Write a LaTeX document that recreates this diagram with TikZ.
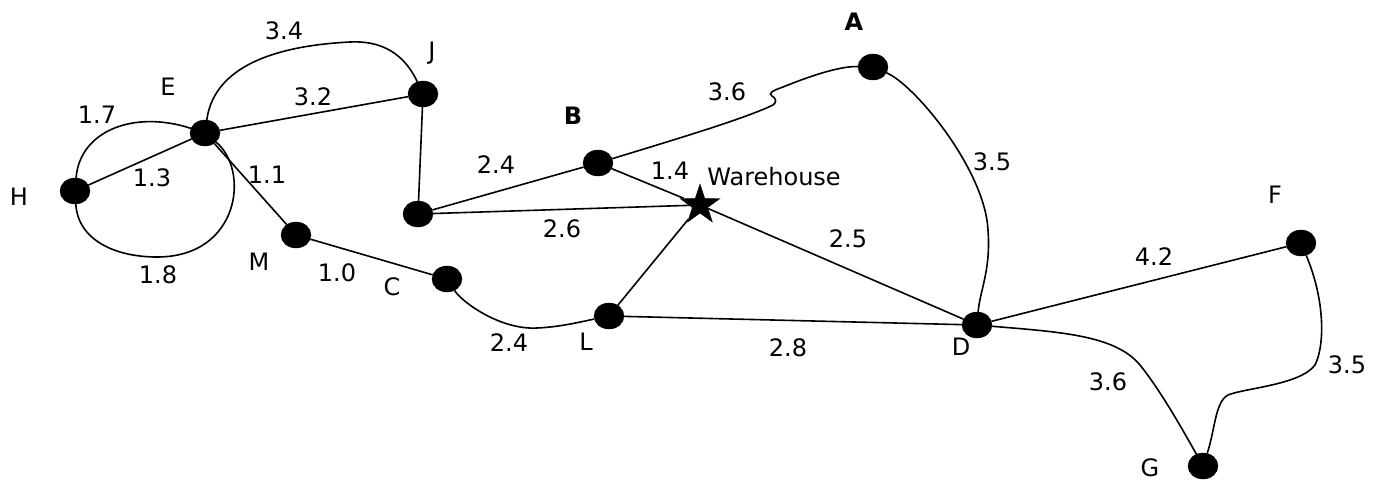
\documentclass[tikz,border=0pt]{standalone}
\usepackage{fontspec}
\setmainfont{DejaVu Sans}
\usetikzlibrary{shapes.geometric}
\begin{document}
\begin{tikzpicture}[x=1pt,y=-1pt,
  vertex/.style={ellipse,fill=black,draw=black,inner sep=0pt,minimum width=30pt,minimum height=26pt},
  depot/.style={star,star points=5,star point ratio=2.6,fill=black,draw=black,inner sep=0pt,minimum size=42pt},
  lbl/.style={inner sep=0pt,font=\fontsize{24}{28}\selectfont},
  bl/.style={lbl,font=\fontsize{24}{28}\selectfont\bfseries},
  edge/.style={line width=1.6pt}]
\useasboundingbox (0,0) rectangle (1377,483);

% vertices
\node[vertex] (H)  at (75,191) {};
\node[vertex] (E)  at (205,133) {};
\node[vertex] (J)  at (423,94) {};
\node[vertex] (Jb) at (418,214) {};
\node[vertex] (M)  at (296,235) {};
\node[vertex] (C)  at (447,279) {};
\node[vertex] (L)  at (609,316) {};
\node[vertex] (B)  at (598,163) {};
\node[depot]  (W)  at (700,205) {};
\node[vertex] (A)  at (873,67) {};
\node[vertex] (D)  at (977,325) {};
\node[vertex] (F)  at (1301,243) {};
\node[vertex] (G)  at (1203,466) {};

% straight roads
\draw[edge] (H) -- (E);
\draw[edge] (E) -- (J);
\draw[edge] (E) -- (M);
\draw[edge] (J) -- (Jb);
\draw[edge] (Jb) -- (B);
\draw[edge] (Jb) -- (W);
\draw[edge] (M) -- (C);
\draw[edge] (B) -- (W);
\draw[edge] (W) -- (D);
\draw[edge] (L) -- (W);
\draw[edge] (L) -- (D);
\draw[edge] (D) -- (F);

% curved roads
\draw[edge] (H) .. controls (80,130) and (135,110) .. (E);
\draw[edge] (E) .. controls (250,170) and (240,257) .. (157,257)
               .. controls (115,257) and (78,240) .. (H);
\draw[edge] (E) .. controls (215,60) and (290,45) .. (350,42)
               .. controls (390,40) and (408,62) .. (J);
\draw[edge] (B) .. controls (680,138) and (740,120) .. (771,106)
               .. controls (778,103) and (776,98) .. (772,96)
               .. controls (768,93) and (772,91) .. (783,87)
               .. controls (810,76) and (840,66) .. (A);
\draw[edge] (A) .. controls (915,85) and (985,170) .. (988,230)
               .. controls (991,270) and (980,290) .. (D);
\draw[edge] (C) .. controls (462,302) and (500,330) .. (537,328)
               .. controls (560,327) and (580,322) .. (L);
\draw[edge] (D) .. controls (1060,332) and (1115,335) .. (1140,365)
               .. controls (1160,390) and (1180,425) .. (G);
\draw[edge] (F) .. controls (1325,300) and (1325,345) .. (1315,365)
               .. controls (1300,385) and (1245,388) .. (1228,395)
               .. controls (1215,402) and (1215,430) .. (G);

% vertex names
\node[lbl] (nH) at (19,197) {H};
\node[lbl] (nE) at (168,87) {E};
\node[lbl] (nJ) at (432,53) {J};
\node[lbl] (nM) at (259,262) {M};
\node[lbl] (nC) at (392,287) {C};
\node[bl]  (nB) at (573,116) {B};
\node[bl]  (nA) at (854,22) {A};
\node[lbl] (nW) at (774,177) {Warehouse};
\node[lbl] (nL) at (586,342) {L};
\node[lbl] (nD) at (961,347) {D};
\node[lbl] (nF) at (1275,195) {F};
\node[lbl] (nG) at (1150,468) {G};

% distances
\node[lbl] (w1)  at (284,31)  {3.4};
\node[lbl] (w2)  at (97,115)  {1.7};
\node[lbl] (w3)  at (313,97)  {3.2};
\node[lbl] (w4)  at (152,178) {1.3};
\node[lbl] (w5)  at (267,175) {1.1};
\node[lbl] (w6)  at (158,275) {1.8};
\node[lbl] (w7)  at (337,273) {1.0};
\node[lbl] (w8)  at (496,165) {2.4};
\node[lbl] (w9)  at (727,92)  {3.6};
\node[lbl] (w10) at (670,171) {1.4};
\node[lbl] (w11) at (562,229) {2.6};
\node[lbl] (w12) at (848,239) {2.5};
\node[lbl] (w13) at (992,162) {3.5};
\node[lbl] (w14) at (509,343) {2.4};
\node[lbl] (w15) at (788,348) {2.8};
\node[lbl] (w16) at (1154,257) {4.2};
\node[lbl] (w17) at (1347,365) {3.5};
\node[lbl] (w18) at (1108,382) {3.6};
\end{tikzpicture}
\end{document}
